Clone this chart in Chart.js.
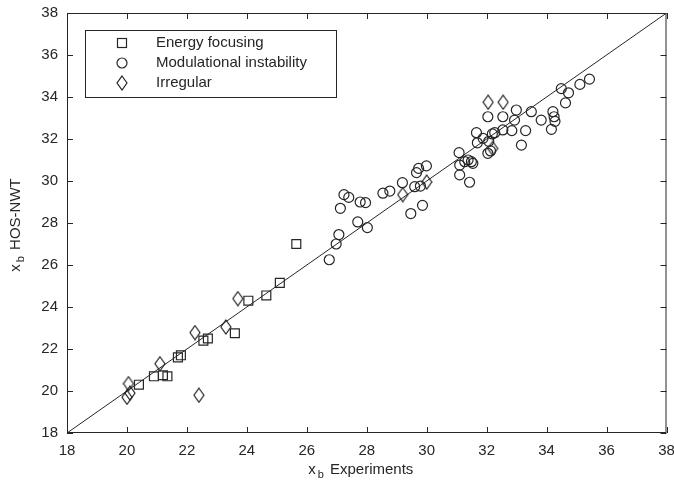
<!DOCTYPE html>
<html>
<head>
<meta charset="utf-8">
<script src="https://cdn.jsdelivr.net/npm/chart.js@4"></script>
<style>
  html, body { margin: 0; padding: 0; background: #fff; }
  #wrap { width: 674px; height: 486px; }
</style>
</head>
<body>
<div id="wrap"><canvas id="chartCanvas" width="674" height="486"></canvas></div>
<script>
// axis ticks
const tickValues = [18, 20, 22, 24, 26, 28, 30, 32, 34, 36, 38];

// Energy focusing (squares)
const efX = [20.4, 20.9, 21.2, 21.35, 21.7, 21.8, 22.55, 22.7, 23.6, 24.05, 24.65, 25.1, 25.65];
const efY = [20.3, 20.7, 20.75, 20.7, 21.6, 21.7, 22.4, 22.5, 22.75, 24.3, 24.55, 25.15, 27.0];

// Modulational instability (circles)
const miX = [26.75, 26.98, 27.07, 27.12, 27.24, 27.4, 27.7, 28.02, 27.78, 27.96,
  28.54, 28.77, 29.19, 29.47, 29.86, 29.6, 29.79, 29.66, 29.73, 29.99,
  31.08, 31.1, 31.1, 31.43, 31.27, 31.38, 31.49, 31.54, 31.66, 31.69,
  31.88, 32.04, 32.13, 32.19, 32.27, 32.07, 32.04, 32.54, 32.54, 32.84,
  32.99, 32.93, 33.16, 33.3, 33.49, 33.82, 34.21, 34.25, 34.28, 34.16,
  34.49, 34.73, 34.63, 35.11, 35.43];
const miY = [26.25, 27.0, 27.45, 28.7, 29.35, 29.22, 28.05, 27.78, 29.0, 28.97,
  29.42, 29.52, 29.92, 28.45, 28.84, 29.73, 29.76, 30.4, 30.6, 30.72,
  31.35, 30.76, 30.29, 29.94, 30.92, 31.0, 30.92, 30.84, 32.3, 31.82,
  32.03, 31.32, 31.43, 32.24, 32.3, 31.89, 33.06, 33.06, 32.43, 32.4,
  33.38, 32.9, 31.71, 32.4, 33.3, 32.9, 33.3, 33.06, 32.84, 32.46,
  34.4, 34.2, 33.72, 34.6, 34.85];

// Irregular (diamonds)
const irX = [20.05, 20.1, 20.0, 21.1, 22.4, 22.27, 23.3, 23.7, 29.2, 30.0, 32.2, 32.05, 32.55];
const irY = [20.35, 19.9, 19.7, 21.3, 19.8, 22.78, 23.05, 24.4, 29.35, 29.95, 31.55, 33.75, 33.75];

const seriesNames = ['Energy focusing', 'Modulational instability', 'Irregular'];

const INK = '#262626';
const FONT = '"Liberation Sans", Arial, sans-serif';

function toPoints(xs, ys) {
  return xs.map((x, i) => ({ x: x, y: ys[i] }));
}

// tall diamond like the matlab marker
function makeDiamond() {
  const c = document.createElement('canvas');
  c.width = 12;
  c.height = 16;
  const g = c.getContext('2d');
  g.strokeStyle = '#1a1a1a';
  g.lineWidth = 1.15;
  g.beginPath();
  g.moveTo(6, 1);
  g.lineTo(11, 8);
  g.lineTo(6, 15);
  g.lineTo(1, 8);
  g.closePath();
  g.stroke();
  return c;
}
const diamond = makeDiamond();

// box, inward ticks, legend and axis titles
const framePlugin = {
  id: 'frame',
  afterDatasetsDraw: function (chart) {
    const ctx = chart.ctx;
    const a = chart.chartArea;
    const xs = chart.scales.x;
    const ys = chart.scales.y;
    ctx.save();
    ctx.strokeStyle = INK;
    ctx.lineWidth = 1;
    ctx.strokeRect(a.left + 0.5, a.top + 0.5, a.right - a.left - 1, a.bottom - a.top - 1);
    ctx.beginPath();
    tickValues.forEach((v) => {
      const px = Math.round(xs.getPixelForValue(v)) + 0.5;
      ctx.moveTo(px, a.bottom); ctx.lineTo(px, a.bottom - 6);
      ctx.moveTo(px, a.top); ctx.lineTo(px, a.top + 6);
      const py = Math.round(ys.getPixelForValue(v)) + 0.5;
      ctx.moveTo(a.left, py); ctx.lineTo(a.left + 6, py);
      ctx.moveTo(a.right, py); ctx.lineTo(a.right - 6, py);
    });
    ctx.stroke();

    // legend
    const lx = a.left + 18, ly = a.top + 17;
    ctx.fillStyle = '#fff';
    ctx.fillRect(lx, ly, 251, 67);
    ctx.strokeRect(lx + 0.5, ly + 0.5, 251, 67);
    ctx.font = '15px ' + FONT;
    ctx.fillStyle = INK;
    ctx.textBaseline = 'middle';
    const rows = [ly + 13, ly + 33, ly + 53];
    const mx = lx + 37;
    ctx.lineWidth = 1.2;
    ctx.strokeRect(mx - 4.5, rows[0] - 4.5, 9, 9);
    ctx.beginPath();
    ctx.arc(mx, rows[1], 5, 0, Math.PI * 2);
    ctx.stroke();
    ctx.drawImage(diamond, mx - 6, rows[2] - 8);
    seriesNames.forEach((name, i) => {
      ctx.fillText(name, lx + 71, rows[i]);
    });

    // axis titles with subscript b
    ctx.textBaseline = 'alphabetic';
    const drawTitle = (cx, cy, rest) => {
      ctx.font = '15px ' + FONT;
      const w1 = ctx.measureText('x').width;
      const w3 = ctx.measureText(rest).width;
      ctx.font = '11px ' + FONT;
      const w2 = ctx.measureText('b').width;
      let x0 = cx - (w1 + w2 + w3 + 4) / 2;
      ctx.font = '15px ' + FONT;
      ctx.fillText('x', x0, cy);
      ctx.font = '11px ' + FONT;
      ctx.fillText('b', x0 + w1 + 2, cy + 4);
      ctx.font = '15px ' + FONT;
      ctx.fillText(rest, x0 + w1 + w2 + 4, cy);
    };
    drawTitle((a.left + a.right) / 2 - 6, 474, ' Experiments');
    ctx.translate(20, (a.top + a.bottom) / 2 + 2);
    ctx.rotate(-Math.PI / 2);
    drawTitle(0, 0, ' HOS-NWT');
    ctx.restore();
  }
};

const axisCommon = {
  type: 'linear',
  min: 18,
  max: 38,
  grid: { display: false, drawTicks: false },
  border: { display: false },
  ticks: {
    stepSize: 2,
    padding: 9,
    color: INK,
    font: { family: FONT, size: 15 }
  }
};

const config = {
  type: 'scatter',
  data: {
    datasets: [
      {
        label: seriesNames[0],
        data: toPoints(efX, efY),
        pointStyle: 'rect',
        pointRadius: 6.3,
        borderColor: INK,
        backgroundColor: 'rgba(0,0,0,0)',
        borderWidth: 1.2
      },
      {
        label: seriesNames[1],
        data: toPoints(miX, miY),
        pointStyle: 'circle',
        pointRadius: 5,
        borderColor: INK,
        backgroundColor: 'rgba(0,0,0,0)',
        borderWidth: 1.2
      },
      {
        label: seriesNames[2],
        data: toPoints(irX, irY),
        pointStyle: diamond,
        borderColor: INK,
        backgroundColor: 'rgba(0,0,0,0)'
      },
      {
        label: 'y = x',
        type: 'line',
        data: [{ x: 18, y: 18 }, { x: 38, y: 38 }],
        borderColor: INK,
        borderWidth: 1,
        pointRadius: 0,
        fill: false
      }
    ]
  },
  options: {
    responsive: false,
    animation: false,
    layout: { padding: { top: 13, right: 7, left: 0, bottom: 0 } },
    plugins: {
      legend: { display: false },
      tooltip: { enabled: false }
    },
    scales: {
      x: Object.assign({}, axisCommon, {
        position: 'bottom',
        afterFit: function (s) { s.height = 53; s.paddingLeft = 0; s.paddingRight = 0; }
      }),
      y: Object.assign({}, axisCommon, {
        position: 'left',
        afterFit: function (s) { s.width = 67; s.paddingTop = 0; s.paddingBottom = 0; }
      })
    }
  },
  plugins: [framePlugin]
};

new Chart('chartCanvas', config);
</script>
</body>
</html>
